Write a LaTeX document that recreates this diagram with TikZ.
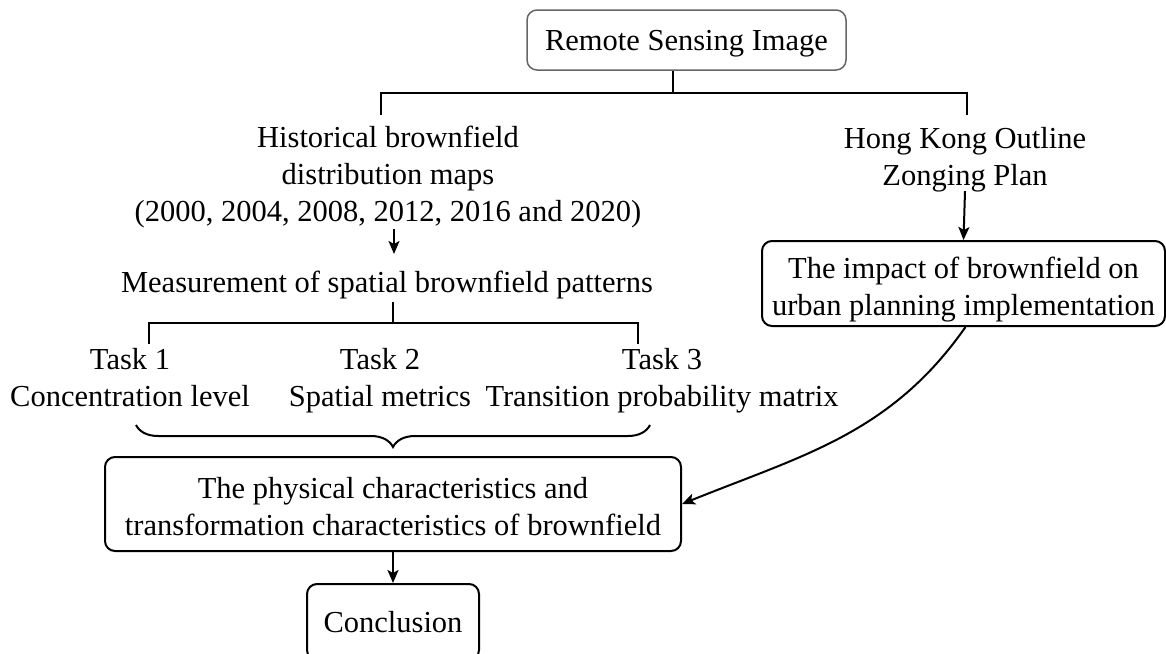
\documentclass[tikz,border=0pt]{standalone}
\usepackage{fontspec}
\setmainfont{Liberation Serif}
\usetikzlibrary{arrows.meta,decorations.pathreplacing}
\begin{document}
\begin{tikzpicture}[x=1pt,y=-1pt,
  font=\fontsize{30.5}{37}\selectfont,
  line width=2pt,
  box/.style={draw,rounded corners=10pt,align=center,inner sep=0pt,text depth=0pt},
  txt/.style={align=center,inner sep=0pt,text depth=0pt},
  arr/.style={-{Stealth[length=13pt,width=11pt,inset=3pt]}}]
\useasboundingbox (0,0) rectangle (1166,653);
% boxes
\node[box,draw=black!60,line width=1.5pt,minimum width=319pt,minimum height=60pt] (rs) at (686.5,40) {Remote Sensing Image};
\node[txt] (hist) at (388,174) {Historical brownfield\\distribution maps\\(2000, 2004, 2008, 2012, 2016 and 2020)};
\node[txt] (hk) at (965,156) {Hong Kong Outline\\Zonging Plan};
\node[box,minimum width=403pt,minimum height=85pt] (imp) at (963.5,283.5) {\rule{0pt}{26pt}The impact of brownfield on\\urban planning implementation};
\node[txt] (meas) at (387,282) {Measurement of spatial brownfield patterns};
\node[txt] (t1) at (130,377) {Task 1\\Concentration level};
\node[txt] (t2) at (380,377) {Task 2\\Spatial metrics};
\node[txt] (t3) at (662,377) {Task 3\\Transition probability matrix};
\node[box,minimum width=576pt,minimum height=94pt] (phys) at (393,504) {\rule{0pt}{26pt}The physical characteristics and\\transformation characteristics of brownfield};
\node[box,minimum width=172pt,minimum height=76pt] (conc) at (393,622) {Conclusion};
% top bracket
\coordinate (b1L) at (381,115);
\coordinate (b1R) at (967,115);
\coordinate (b1M) at (673,93);
\draw ([xshift=-13.5pt]rs.south) -- (b1M);
\draw (b1L) -- (b1L |- b1M) -- (b1R |- b1M) -- (b1R);
% arrows
\coordinate (a1s) at (394,229);
\coordinate (a1e) at (394,254);
\draw[arr] (a1s) -- (a1e);
\draw[arr] ([yshift=-5pt]hk.south) -- (imp.north);
% second bracket
\coordinate (b2L) at (149,344);
\coordinate (b2R) at (638,344);
\coordinate (b2M) at (393,323);
\draw ([xshift=6pt,yshift=-8pt]meas.south) -- (b2M);
\draw (b2L) -- (b2L |- b2M) -- (b2R |- b2M) -- (b2R);
% brace
\draw[decorate,decoration={brace,mirror,amplitude=22pt}] (136,425) -- (650,425);
% to conclusion
\draw[arr] (phys.south) -- (conc.north);
% curve
\draw[arr] ([xshift=2pt]imp.south) to[out=-125,in=22] (phys.east);
\end{tikzpicture}
\end{document}
